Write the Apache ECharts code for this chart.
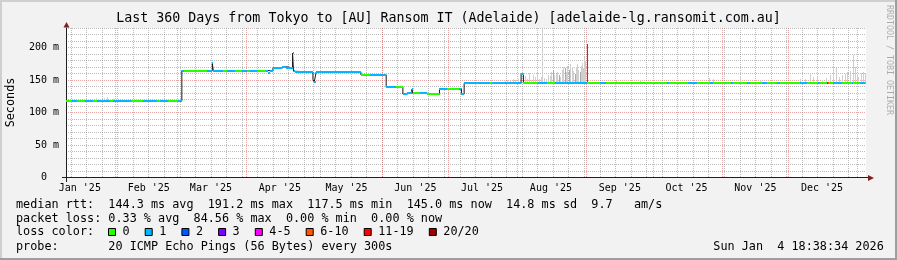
<!DOCTYPE html>
<html><head><meta charset="utf-8">
<script src="https://cdn.jsdelivr.net/npm/echarts@6/dist/echarts.min.js"></script>
<style>html,body{margin:0;padding:0;background:#f2f2f2}#c{width:897px;height:260px}</style>
</head><body><div id="c"></div><script>
// ---- time axis: days since 2025-01-01 00:00 ----
const startDay = 8.776, endDay = 368.776;
const monthStartDays = [31, 59, 90, 120, 151, 181, 212, 243, 273, 304, 334, 365];
const monthLabelDays = [15, 46, 74, 105, 135, 166, 196, 227, 258, 288, 319, 349];
const monthLabels = ["Jan '25", "Feb '25", "Mar '25", "Apr '25", "May '25", "Jun '25", "Jul '25", "Aug '25", "Sep '25", "Oct '25", "Nov '25", "Dec '25"];
const weekGridDays = [11, 18, 25, 32, 39, 46, 53, 60, 67, 74, 81, 88, 95, 102, 109, 116, 123, 130, 137, 144, 151, 158, 165, 172, 179, 186, 193, 200, 207, 214, 221, 228, 235, 242, 249, 256, 263, 270, 277, 284, 291, 298, 305, 312, 319, 326, 333, 340, 347, 354, 361];
const yMajorTicks = [0, 50, 100, 150, 200];
const yMinorTicks = [10, 20, 30, 40, 60, 70, 80, 90, 110, 120, 130, 140, 160, 170, 180, 190, 210, 220, 230];

// ---- median rtt (ms), value holds from each day until the next ----
const medianDays = [8.776, 38.19, 60.90, 74.61, 75.06, 99.48, 100.38, 101.91, 105.96, 107.89, 110.72, 111.17, 111.94, 119.90, 120.48, 121.38, 141.48, 152.86, 160.37, 162.17, 164.41, 164.86, 171.16, 176.83, 186.72, 187.94, 213.57, 214.61];
const medianValues = [117.5, 118.3, 164.5, 175.5, 164.5, 161.5, 164.5, 168.5, 170.5, 168.5, 191.2, 163.5, 162.3, 151.0, 147.0, 162.5, 158.0, 139.5, 128.5, 130.5, 135.5, 129.5, 128.0, 136.5, 128.5, 144.8, 159.5, 145.0];

// ---- packet loss class along the line (index into lossColors), holds until next ----
const lossDays = [8.78, 11.65, 13.90, 17.50, 21.10, 22.90, 28.74, 30.09, 38.19, 43.58, 49.88, 51.23, 54.83, 59.32, 62.02, 72.23, 79.56, 81.22, 84.96, 87.97, 90.22, 91.70, 94.71, 99.00, 141.48, 145.67, 157.36, 160.50, 165.00, 168.15, 171.29, 176.69, 180.29, 185.69, 199.63, 200.53, 214.47, 221.22, 225.26, 228.86, 243.25, 249.10, 251.80, 279.22, 280.12, 288.67, 292.72, 298.57, 299.92, 308.01, 308.91, 315.21, 316.56, 321.95, 324.20, 328.70, 330.05, 339.04, 342.19, 347.13, 348.03, 351.04, 351.49, 352.08, 353.88, 357.93, 362.43, 362.87, 366.02, 368.27];
const lossCodes = [0, 1, 0, 1, 0, 1, 0, 1, 0, 1, 0, 1, 0, 1, 0, 1, 0, 1, 0, 1, 0, 1, 0, 1, 0, 1, 0, 1, 0, 1, 0, 1, 0, 1, 0, 1, 0, 1, 0, 1, 0, 1, 0, 1, 0, 1, 0, 1, 0, 1, 0, 1, 0, 1, 0, 1, 0, 1, 0, 1, 0, 6, 5, 0, 1, 0, 1, 0, 1, 0];
const lossColors = ['#26ff00', '#00b8ff', '#0059ff', '#7e00ff', '#ff00ff', '#ff5500', '#ff0000', '#a10000'];
const lossLabels = ['0', '1', '2', '3', '4-5', '6-10', '11-19', '20/20'];

// ---- smoke (spread of the 20 pings): top value per sampled day, shade class ----
const smokeDays = [18.68, 20.48, 22.28, 24.08, 25.88, 27.09, 28.58, 29.93,
  206.36, 207.26, 208.61, 209.96, 210.86, 212.21, 215.36, 216.26, 217.16, 218.06, 218.96, 219.86, 220.76, 221.66, 222.56, 223.15, 223.91, 224.81, 225.71, 226.61, 227.06, 227.96, 228.41, 229.31, 229.76, 230.66, 231.11, 232.01, 232.46, 233.36, 233.81, 234.26, 235.17, 235.61, 236.52, 236.96, 237.87, 238.31, 238.77, 239.21, 240.12, 240.56, 241.02, 241.46, 241.92, 242.36, 243.13,
  256.32, 267.12, 298.17, 299.97, 312.13, 321.13, 339.13, 341.38, 343.63, 344.98, 346.78, 349.03, 350.83, 352.63, 353.98, 355.33, 356.68, 358.03, 359.38, 360.28, 361.63, 362.98, 363.88, 364.78, 365.23, 366.58, 367.48, 368.38];
const smokeHigh = [121, 120.5, 122, 121, 123, 124.5, 121.5, 120.5,
  149, 150, 148, 151, 150, 152, 156, 152, 161, 150, 158, 154, 161, 151, 155, 229, 153, 152, 158, 156, 162, 165, 157, 160, 163, 158, 155, 165, 170, 168, 162, 172, 166, 175, 170, 164, 160, 170, 175, 166, 162, 172, 176, 168, 185, 180, 206,
  148, 150, 153, 152, 156, 150, 152, 152, 161, 154, 156, 150, 153, 158, 170, 168, 155, 158, 160, 163, 164, 188, 170, 160, 155, 161, 162, 161];
const smokeShade = [0, 0, 0, 0, 0, 0, 0, 0,
  0, 0, 0, 0, 0, 0, 0, 0, 0, 0, 0, 0, 0, 0, 0, 0, 0, 0, 0, 0, 0, 1, 0, 0, 0, 1, 0, 0, 0, 1, 0, 0, 1, 0, 0, 0, 1, 0, 0, 0, 1, 0, 0, 0, 0, 0, 2,
  0, 0, 0, 0, 0, 0, 0, 0, 0, 0, 0, 0, 0, 0, 0, 0, 0, 0, 0, 0, 0, 0, 0, 0, 0, 0, 0, 0];
const smokeColors = ['#cfcfcf', '#a9a9a9', '#5a5a5a'];

// ---- legend text ----
const titleText = 'Last 360 Days from Tokyo to [AU] Ransom IT (Adelaide) [adelaide-lg.ransomit.com.au]';
const legendRtt = 'median rtt:  144.3 ms avg  191.2 ms max  117.5 ms min  145.0 ms now  14.8 ms sd  9.7   am/s';
const legendLoss = 'packet loss: 0.33 % avg  84.56 % max  0.00 % min  0.00 % now';
const legendProbe = 'probe:       20 ICMP Echo Pings (56 Bytes) every 300s';
const stampText = 'Sun Jan  4 18:38:34 2026';

function holdAt(days, vals, d) {
  let v = vals[0];
  for (let i = 0; i < days.length; i++) { if (days[i] <= d + 1e-9) v = vals[i]; else break; }
  return v;
}
const breaks = Array.from(new Set(medianDays.concat(lossDays, [endDay]))).sort((a, b) => a - b);
const bandData = [];
for (let i = 0; i < breaks.length - 1; i++) {
  const a = breaks[i], b = breaks[i + 1];
  bandData.push([a, b, holdAt(medianDays, medianValues, a), holdAt(lossDays, lossCodes, a)]);
}
const lineData = medianDays.map((d, i) => [d, medianValues[i]]).concat([[endDay, medianValues[medianValues.length - 1]]]);
const smokeData = smokeDays.map((d, i) => [d, holdAt(medianDays, medianValues, d) - 1, smokeHigh[i], smokeShade[i]]);

const MONO = '"DejaVu Sans Mono", monospace';
const FONT_LEG = '11.8px ' + MONO;
const MINOR = 'rgba(143,143,143,0.6)';
const MAJOR = 'rgba(222,79,79,0.5)';

const chart = echarts.init(document.getElementById('c'), null, { renderer: 'canvas' });

const graphics = [
  { type: 'rect', shape: { x: 0, y: 0, width: 897, height: 2 }, style: { fill: '#cfcfcf' }, silent: true },
  { type: 'rect', shape: { x: 0, y: 0, width: 2, height: 260 }, style: { fill: '#cfcfcf' }, silent: true },
  { type: 'rect', shape: { x: 0, y: 258, width: 897, height: 2 }, style: { fill: '#9e9e9e' }, silent: true },
  { type: 'rect', shape: { x: 895, y: 0, width: 2, height: 260 }, style: { fill: '#9e9e9e' }, silent: true },
  { type: 'text', x: 448.5, y: 19, style: { text: titleText, font: '13.3px ' + MONO, fill: '#000', textAlign: 'center', textVerticalAlign: 'middle' } },
  { type: 'text', x: 11, y: 102.5, rotation: Math.PI / 2, style: { text: 'Seconds', font: FONT_LEG, fill: '#000', textAlign: 'center', textVerticalAlign: 'middle' } },
  { type: 'text', x: 889.5, y: 60, rotation: -Math.PI / 2, style: { text: 'RRDTOOL / TOBI OETIKER', font: '8.3px ' + MONO, fill: 'rgba(0,0,0,0.3)', textAlign: 'center', textVerticalAlign: 'middle' } },
  { type: 'rect', shape: { x: 62, y: 177, width: 4, height: 1 }, style: { fill: '#1f1f1f' } },
  { type: 'rect', shape: { x: 66, y: 178, width: 1, height: 4 }, style: { fill: '#1f1f1f' } },
  { type: 'rect', shape: { x: 866, y: 177, width: 3, height: 1 }, style: { fill: '#1f1f1f' } },
  { type: 'polygon', shape: { points: [[868, 175], [868, 181], [874, 178]] }, style: { fill: '#801f1f' } },
  { type: 'polygon', shape: { points: [[63.5, 27.5], [69.5, 27.5], [66.5, 22]] }, style: { fill: '#801f1f' } },
  { type: 'text', x: 16, y: 205, style: { text: legendRtt, font: FONT_LEG, fill: '#000', textVerticalAlign: 'middle' } },
  { type: 'text', x: 16, y: 218.6, style: { text: legendLoss, font: FONT_LEG, fill: '#000', textVerticalAlign: 'middle' } },
  { type: 'text', x: 16, y: 232.3, style: { text: 'loss color:', font: FONT_LEG, fill: '#000', textVerticalAlign: 'middle' } },
  { type: 'text', x: 16, y: 246.5, style: { text: legendProbe, font: FONT_LEG, fill: '#000', textVerticalAlign: 'middle' } },
  { type: 'text', x: 713.3, y: 246.5, style: { text: stampText, font: FONT_LEG, fill: '#000', textVerticalAlign: 'middle' } }
];
let bx = 108.5;
lossLabels.forEach((lab, i) => {
  graphics.push({ type: 'rect', shape: { x: bx, y: 228.5, width: 7, height: 7 }, style: { fill: lossColors[i], stroke: '#000', lineWidth: 1 } });
  graphics.push({ type: 'text', x: bx + 14, y: 232.3, style: { text: lab, font: FONT_LEG, fill: '#000', textVerticalAlign: 'middle' } });
  bx += 14 + lab.length * 7.1 + 15.6;
});

const option = {
  animation: false,
  backgroundColor: '#f2f2f2',
  grid: { left: 66, top: 28, width: 800, height: 149.5, show: true, backgroundColor: '#ffffff', borderWidth: 0 },
  xAxis: [
    { type: 'value', min: startDay, max: endDay, axisLine: { show: false }, axisLabel: { show: false },
      axisTick: { show: false, customValues: weekGridDays },
      splitLine: { show: true, lineStyle: { color: MINOR, width: 1, type: [1, 1] } } },
    { type: 'value', min: startDay, max: endDay, position: 'bottom',
      axisLine: { show: true, onZero: false, lineStyle: { color: '#1f1f1f', width: 1 } },
      axisTick: { show: false, customValues: monthStartDays },
      axisLabel: { show: true, customValues: monthLabelDays, margin: 6, color: '#000', fontFamily: '"DejaVu Sans Mono"', fontSize: 10,
        formatter: v => { const i = monthLabelDays.indexOf(v); return i >= 0 ? monthLabels[i] : ''; } },
      splitLine: { show: true, lineStyle: { color: MAJOR, width: 1, type: [1, 1] } } }
  ],
  yAxis: [
    { type: 'value', min: 0, max: 230, axisLine: { show: false }, axisLabel: { show: false },
      axisTick: { show: false, customValues: yMinorTicks },
      splitLine: { show: true, lineStyle: { color: MINOR, width: 1, type: [1, 1] } } },
    { type: 'value', min: 0, max: 230, position: 'left',
      axisLine: { show: true, onZero: false, lineStyle: { color: '#1f1f1f', width: 1 } },
      axisTick: { show: false, customValues: yMajorTicks },
      axisLabel: { show: true, customValues: yMajorTicks, margin: 7, color: '#000', fontFamily: '"DejaVu Sans Mono"', fontSize: 10,
        formatter: v => v === 0 ? '0  ' : v + ' m' },
      splitLine: { show: true, lineStyle: { color: MAJOR, width: 1, type: [1, 1] } } }
  ],
  series: [
    { type: 'custom', name: 'smoke', xAxisIndex: 1, yAxisIndex: 1, data: smokeData, encode: { x: 0, y: [1, 2] }, clip: true,
      renderItem: (params, api) => {
        const lo = api.coord([api.value(0), api.value(1)]);
        const hi = api.coord([api.value(0), api.value(2)]);
        return { type: 'rect', shape: { x: Math.round(lo[0]), y: Math.round(hi[1]), width: 1, height: Math.round(lo[1]) - Math.round(hi[1]) },
          style: { fill: smokeColors[api.value(3)] } };
      } },
    { type: 'line', name: 'median', xAxisIndex: 1, yAxisIndex: 1, data: lineData, step: 'end', showSymbol: false, symbol: 'none',
      lineStyle: { color: '#1a1a1a', width: 1 }, z: 3 },
    { type: 'custom', name: 'loss band', xAxisIndex: 1, yAxisIndex: 1, data: bandData, encode: { x: [0, 1], y: 2 }, clip: true, z: 4,
      renderItem: (params, api) => {
        const p0 = api.coord([api.value(0), api.value(2)]);
        const p1 = api.coord([api.value(1), api.value(2)]);
        const x0 = Math.round(p0[0]), x1 = Math.max(Math.round(p1[0]), x0 + 1);
        return { type: 'rect', shape: { x: x0, y: Math.round(p0[1]) - 1, width: x1 - x0, height: 2 },
          style: { fill: lossColors[api.value(3)] } };
      } }
  ],
  graphic: { elements: graphics }
};
chart.setOption(option);
</script></body></html>
